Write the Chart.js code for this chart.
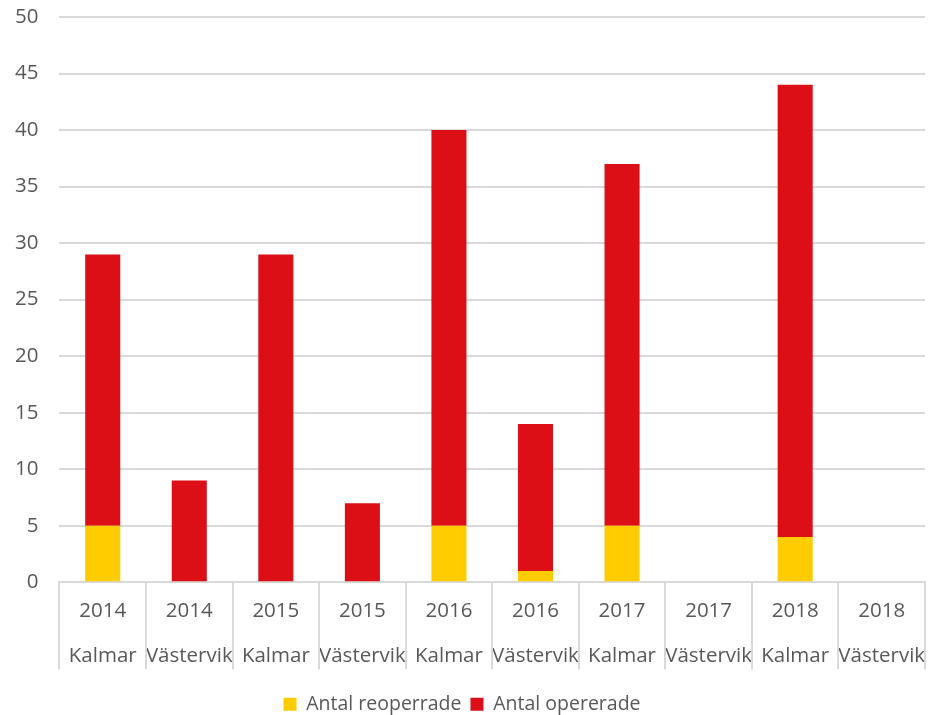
<!DOCTYPE html>
<html>
<head>
<meta charset="utf-8">
<script src="https://cdn.jsdelivr.net/npm/chart.js@4"></script>
<style>
  html, body { margin:0; padding:0; background:#fff; }
  #wrap { width:930px; height:715px; position:relative; }
</style>
</head>
<body>
<div id="wrap"><canvas id="chart"></canvas></div>
<script>
// categories: [year, site]
const years = ["2014","2014","2015","2015","2016","2016","2017","2017","2018","2018"];
const sites = ["Kalmar","Västervik","Kalmar","Västervik","Kalmar","Västervik","Kalmar","Västervik","Kalmar","Västervik"];
// series
const reoperated = [5, 0, 0, 0, 5, 1, 5, 0, 4, 0];
const operated   = [24, 9, 29, 7, 35, 13, 32, 0, 40, 0];
const yTicks = [0, 5, 10, 15, 20, 25, 30, 35, 40, 45, 50];

const labels = years.map((y, i) => [y, sites[i]]);
const FONT = "'Open Sans', sans-serif";
const TXT = "#595959";
const GRID = "#d9d9d9";

// vertical separators between the categories, below the axis (multi-level axis look)
const separators = {
  id: "separators",
  afterDraw(chart) {
    const x = chart.scales.x;
    const ctx = chart.ctx;
    const n = labels.length;
    const w = (x.right - x.left) / n;
    ctx.save();
    ctx.strokeStyle = GRID;
    ctx.lineWidth = 2;
    ctx.beginPath();
    for (let i = 0; i <= n; i++) {
      const px = Math.round(x.left + i * w);
      ctx.moveTo(px, x.top);
      ctx.lineTo(px, x.top + 87);
    }
    ctx.stroke();
    ctx.restore();
  }
};

new Chart(document.getElementById("chart"), {
  type: "bar",
  data: {
    labels: labels,
    datasets: [
      { label: "Antal reoperrade", data: reoperated, backgroundColor: "#ffcc00" },
      { label: "Antal opererade", data: operated, backgroundColor: "#dc0f17" }
    ]
  },
  plugins: [separators],
  options: {
    responsive: true,
    maintainAspectRatio: false,
    animation: false,
    layout: { padding: { top: 0, right: 0, left: -6, bottom: -9 } },
    datasets: { bar: { barPercentage: 0.405, categoryPercentage: 1 } },
    plugins: {
      legend: {
        position: "bottom",
        labels: {
          color: TXT,
          font: { size: 19.5, family: FONT, lineHeight: 1 },
          boxWidth: 13, boxHeight: 13,
          padding: 9
        }
      },
      tooltip: { enabled: false }
    },
    scales: {
      x: {
        stacked: true,
        offset: true,
        afterFit: s => { s.paddingRight = 5; },
        border: { display: true, color: GRID, width: 2 },
        grid: { display: false, drawTicks: false },
        ticks: {
          color: TXT,
          font: { size: 20.5, family: FONT, lineHeight: 2.2 },
          padding: 6.5,
          maxRotation: 0,
          autoSkip: false
        }
      },
      y: {
        stacked: true,
        min: 0, max: 50,
        afterBuildTicks: s => { s.ticks = yTicks.map(v => ({ value: v })); },
        afterFit: s => { s.paddingTop = 17; },
        border: { display: false },
        grid: { color: GRID, lineWidth: 2, drawTicks: false },
        ticks: {
          color: TXT,
          font: { size: 20.5, family: FONT, lineHeight: 0.5 },
          padding: 21
        }
      }
    }
  }
});
</script>
</body>
</html>
